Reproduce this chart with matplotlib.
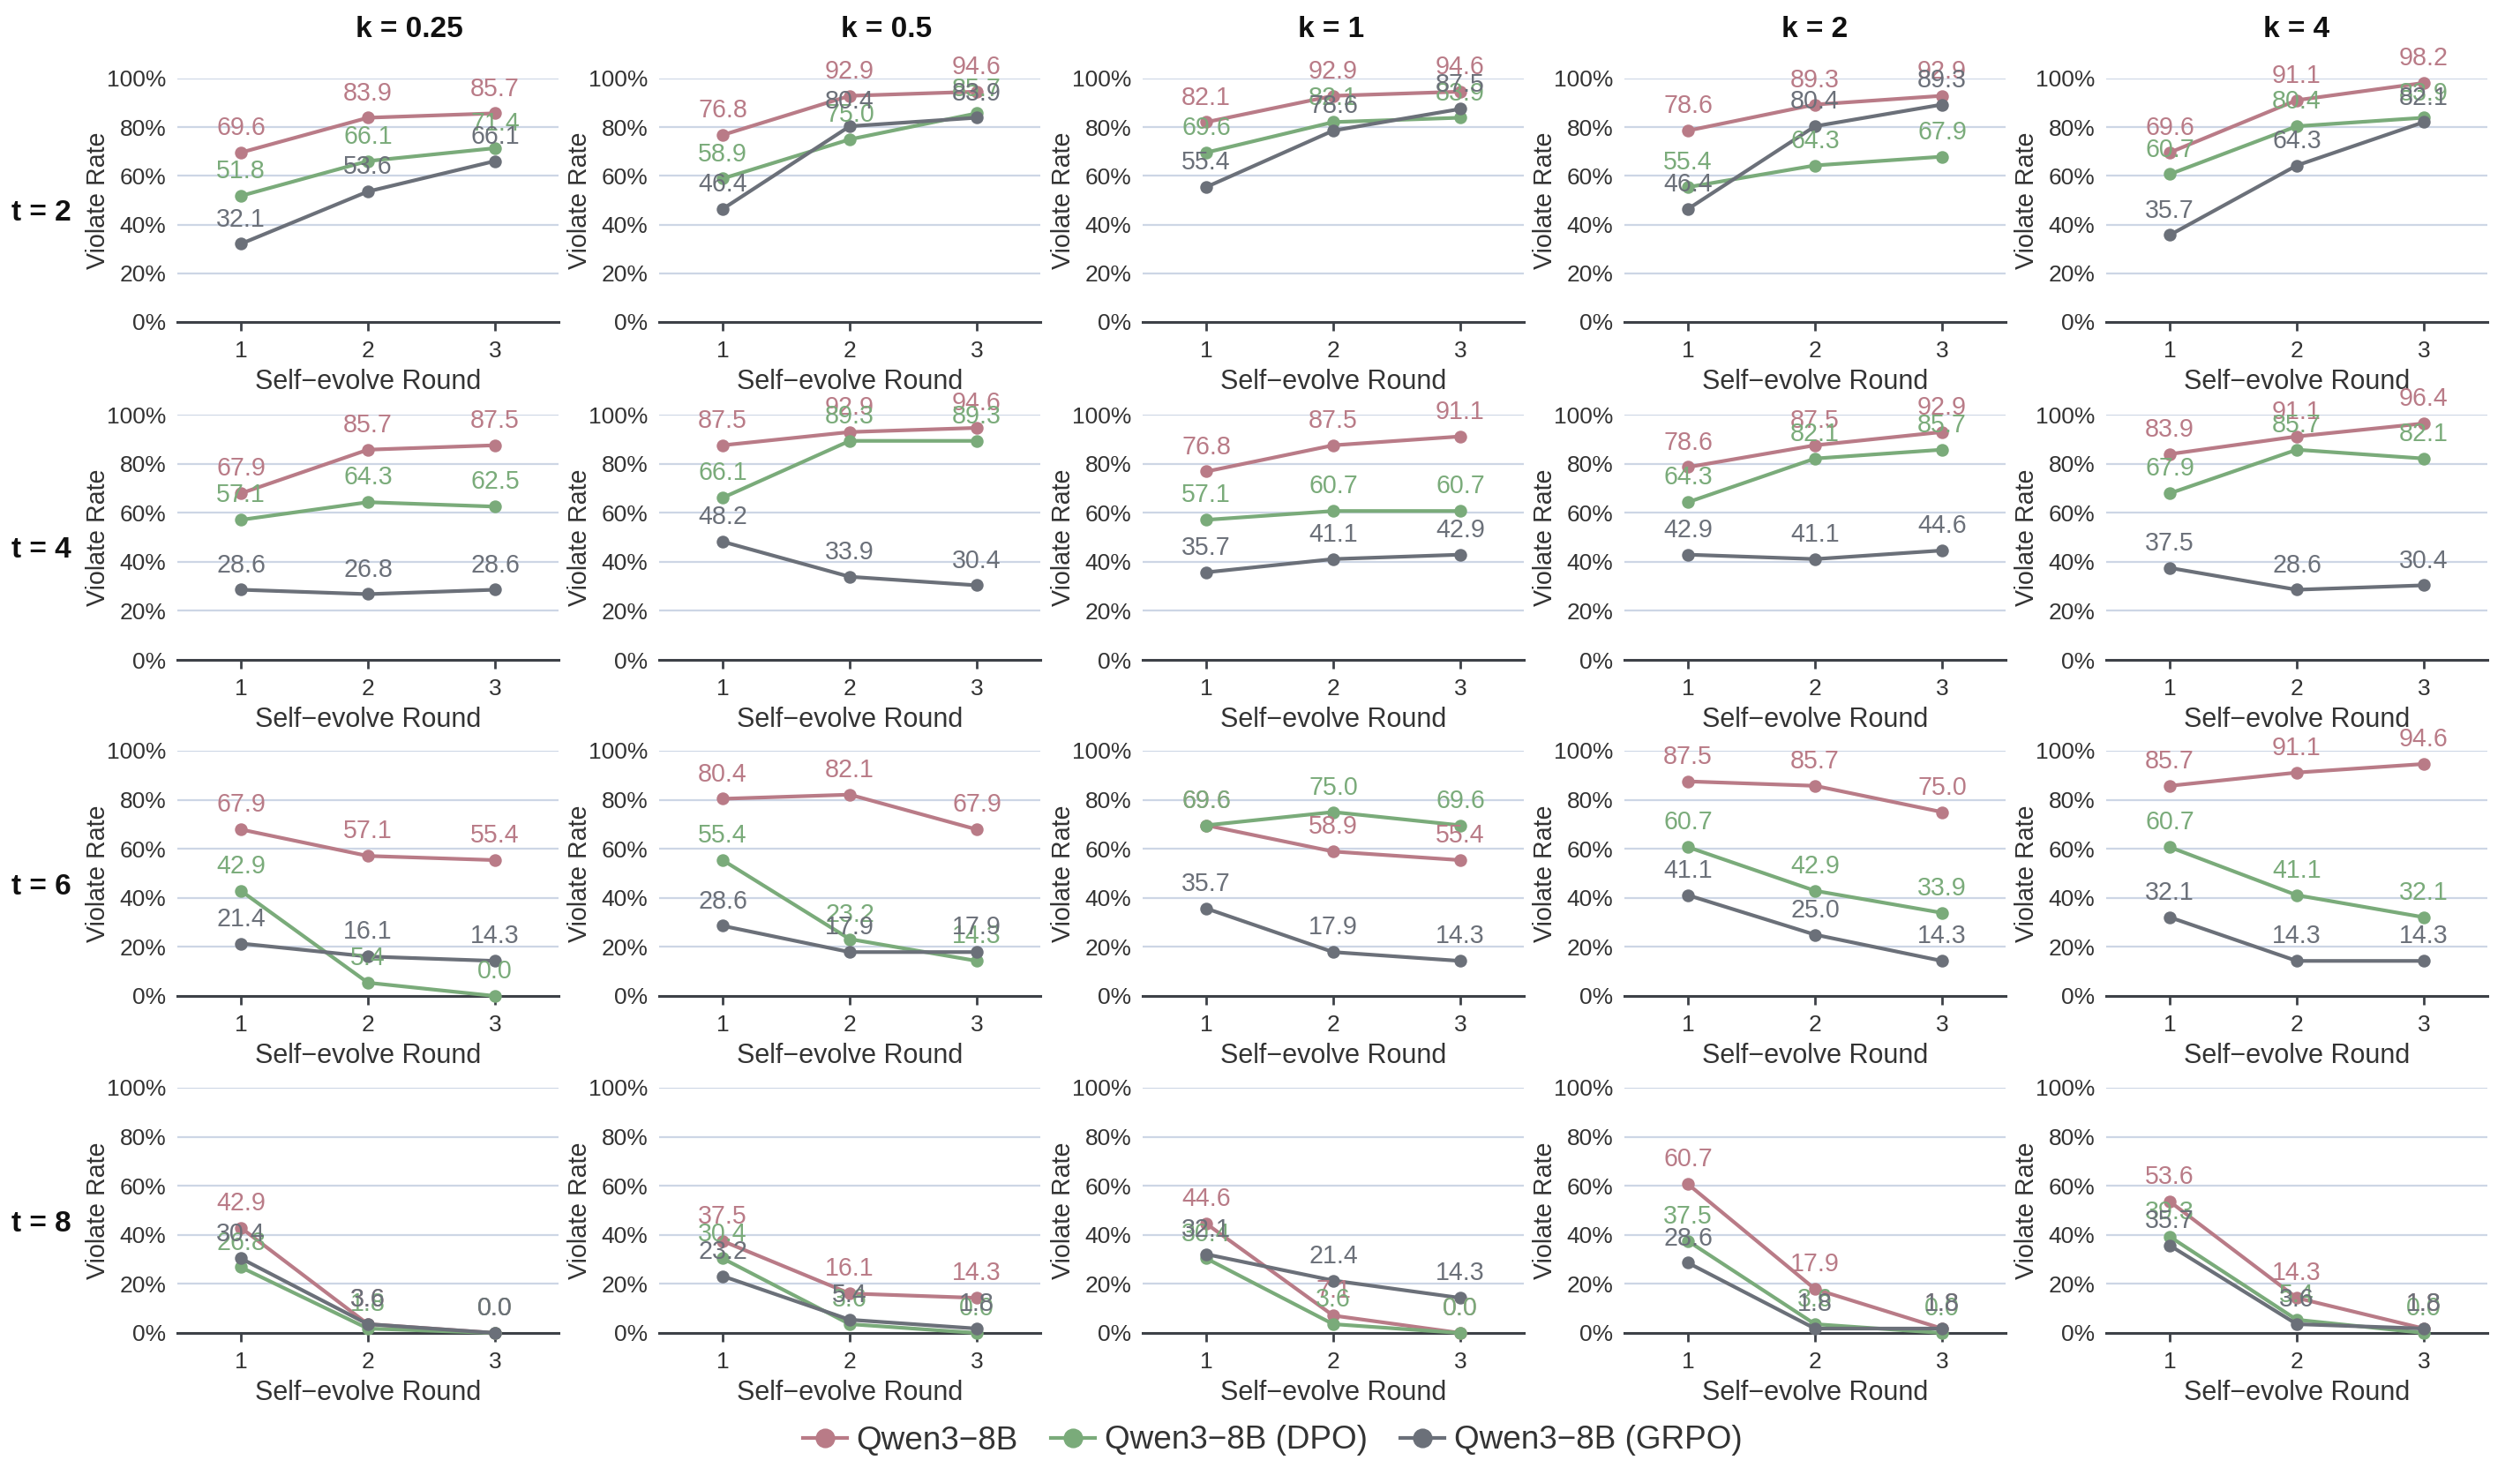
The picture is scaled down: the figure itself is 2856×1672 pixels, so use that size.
import matplotlib
matplotlib.use("Agg")
import matplotlib.pyplot as plt
from matplotlib.lines import Line2D

FONT = ["Liberation Sans", "DejaVu Sans"]
plt.rcParams["font.family"] = FONT

rounds = [1, 2, 3]
k_values = ["0.25", "0.5", "1", "2", "4"]
t_values = ["2", "4", "6", "8"]
series_names = ["Qwen3\u22128B", "Qwen3\u22128B (DPO)", "Qwen3\u22128B (GRPO)"]
colors = ["#b97b87", "#7aab7a", "#6b7079"]

# values indexed [t][k][round]
base = [
    [[69.6, 83.9, 85.7], [76.8, 92.9, 94.6], [82.1, 92.9, 94.6], [78.6, 89.3, 92.9], [69.6, 91.1, 98.2]],
    [[67.9, 85.7, 87.5], [87.5, 92.9, 94.6], [76.8, 87.5, 91.1], [78.6, 87.5, 92.9], [83.9, 91.1, 96.4]],
    [[67.9, 57.1, 55.4], [80.4, 82.1, 67.9], [69.6, 58.9, 55.4], [87.5, 85.7, 75.0], [85.7, 91.1, 94.6]],
    [[42.9, 3.6, 0.0], [37.5, 16.1, 14.3], [44.6, 7.1, 0.0], [60.7, 17.9, 1.8], [53.6, 14.3, 1.8]],
]
dpo = [
    [[51.8, 66.1, 71.4], [58.9, 75.0, 85.7], [69.6, 82.1, 83.9], [55.4, 64.3, 67.9], [60.7, 80.4, 83.9]],
    [[57.1, 64.3, 62.5], [66.1, 89.3, 89.3], [57.1, 60.7, 60.7], [64.3, 82.1, 85.7], [67.9, 85.7, 82.1]],
    [[42.9, 5.4, 0.0], [55.4, 23.2, 14.3], [69.6, 75.0, 69.6], [60.7, 42.9, 33.9], [60.7, 41.1, 32.1]],
    [[26.8, 1.8, 0.0], [30.4, 3.6, 0.0], [30.4, 3.6, 0.0], [37.5, 3.6, 0.0], [39.3, 5.4, 0.0]],
]
grpo = [
    [[32.1, 53.6, 66.1], [46.4, 80.4, 83.9], [55.4, 78.6, 87.5], [46.4, 80.4, 89.3], [35.7, 64.3, 82.1]],
    [[28.6, 26.8, 28.6], [48.2, 33.9, 30.4], [35.7, 41.1, 42.9], [42.9, 41.1, 44.6], [37.5, 28.6, 30.4]],
    [[21.4, 16.1, 14.3], [28.6, 17.9, 17.9], [35.7, 17.9, 14.3], [41.1, 25.0, 14.3], [32.1, 14.3, 14.3]],
    [[30.4, 3.6, 0.0], [23.2, 5.4, 1.8], [32.1, 21.4, 14.3], [28.6, 1.8, 1.8], [35.7, 3.6, 1.8]],
]
all_series = [base, dpo, grpo]
y_ticks = [0, 20, 40, 60, 80, 100]
y_ticklabels = ["0%", "20%", "40%", "60%", "80%", "100%"]

W, H = 2856, 1672
DPI = 200
fig = plt.figure(figsize=(W / DPI, H / DPI), dpi=DPI)

col_left = [201, 747, 1295, 1841, 2387]
col_w = 432
row_px = [(89, 365), (470, 748), (851, 1129), (1233, 1511)]
title_x_px = [464, 1005, 1509, 2057, 2603]

text_dark = "#333333"
spine_c = "#3d4147"
grid_c = "#cdd6e5"

for ri, (ytop, ybot) in enumerate(row_px):
    for ci, xl in enumerate(col_left):
        ax = fig.add_axes([xl / W, 1 - ybot / H, col_w / W, (ybot - ytop) / H])
        ax.set_xlim(0.5, 3.5)
        ax.set_ylim(0, 100)
        for s in ["top", "right", "left"]:
            ax.spines[s].set_visible(False)
        ax.spines["bottom"].set_color(spine_c)
        ax.spines["bottom"].set_linewidth(1.1)
        ax.spines["bottom"].set_zorder(1)
        ax.set_yticks(y_ticks)
        ax.set_yticklabels(y_ticklabels)
        ax.set_xticks(rounds)
        ax.set_xticklabels([str(r) for r in rounds])
        ax.tick_params(axis="y", length=0, pad=4.5, labelsize=9.5, labelcolor=text_dark)
        ax.tick_params(axis="x", length=3.6, width=1.0, color=spine_c, pad=4,
                       labelsize=9.5, labelcolor=text_dark)
        for yv in y_ticks[1:]:
            ax.axhline(yv, color=grid_c, lw=0.8, zorder=0)
        ax.set_ylabel("Violate Rate", fontsize=10.3, color=text_dark, labelpad=-1.5)
        ax.set_xlabel("Self\u2212evolve Round", fontsize=11, color=text_dark, labelpad=3)
        for si, ser in enumerate(all_series):
            vals = ser[ri][ci]
            ax.plot(rounds, vals, color=colors[si], lw=1.5, marker="o", ms=4.2,
                    zorder=3 + si, clip_on=False)
        for si, ser in enumerate(all_series):
            vals = ser[ri][ci]
            for x, v in zip(rounds, vals):
                ax.annotate(f"{v:.1f}", (x, v), xytext=(0, 10), textcoords="offset points",
                            ha="center", va="center", fontsize=10.3,
                            color=colors[si], zorder=10 + si, annotation_clip=False)

for ci, tx in enumerate(title_x_px):
    fig.text(tx / W, 1 - 33 / H, f"k = {k_values[ci]}", ha="center", va="center",
             fontsize=12, fontweight="bold", color="#111111")
for ri, (ytop, ybot) in enumerate(row_px):
    yc = (ytop + ybot) / 2 + 15
    fig.text(47 / W, 1 - yc / H, f"t = {t_values[ri]}", ha="center", va="center",
             fontsize=12, fontweight="bold", color="#111111")

handles = [Line2D([0], [0], color=c, lw=1.5, marker="o", ms=7) for c in colors]
fig.legend(handles, series_names, loc="center", bbox_to_anchor=(1442 / W, 1 - 1633 / H),
           ncol=3, frameon=False, prop={"size": 13.3},
           handlelength=1.35, handletextpad=0.3, columnspacing=1.0,
           labelcolor=text_dark)

fig.savefig("out.png", dpi=DPI)
